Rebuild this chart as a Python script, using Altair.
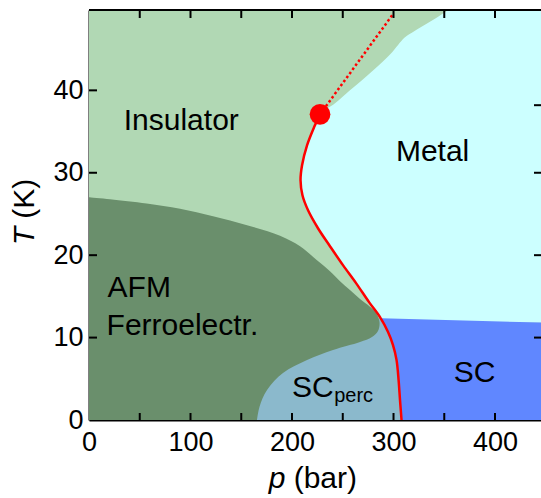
import altair as alt
import pandas as pd

FONT = "Liberation Sans"
P_MAX = 445.3   # right edge of the plotted pressure range (bar)
T_MAX = 49.75   # top of the temperature range (K)

# First-order insulator/metal boundary, from T = 0 up to the critical end point
red_p = [307.9, 306.4, 305.0, 303.0, 299.5, 294.6, 286.7, 275.9, 263.1, 250.2,
         237.4, 225.6, 215.8, 210.3, 208.4, 209.9, 214.8, 221.7, 227.6]
red_T = [0.0, 2.42, 4.85, 7.27, 9.09, 10.67, 12.48, 14.30, 16.61, 18.79,
         21.09, 23.27, 25.45, 27.27, 29.09, 30.91, 33.33, 35.52, 37.09]

# Critical end point and the crossover line above it
cep_p = [227.6]
cep_T = [37.09]
cross_p = [227.6, 299.8]
cross_T = [37.09, 49.3]

# Metal: left boundary (red line, then crossover edge) as a function of T
metal_T = [11.8, 12.48, 14.30, 16.61, 18.79, 21.09, 23.27, 25.45, 27.27, 29.09,
           30.91, 33.33, 35.52, 37.09, 38.42, 40.0, 42.42, 44.48, 46.42, 47.15,
           48.12, 49.09, 49.76, 50.5]
metal_p = [289.7, 286.7, 275.9, 263.1, 250.2, 237.4, 225.6, 215.8, 210.3, 208.4,
           209.9, 214.8, 221.7, 227.6, 242.4, 257.1, 279.8, 297.5, 311.0, 320.0,
           333.0, 345.8, 353.7, 360.0]

# AFM / ferroelectric phase: right boundary as a function of T
afm_T = [0.0, 1.61, 3.64, 5.70, 7.27, 8.48, 9.45, 10.06, 10.79, 11.88, 12.97,
         13.73, 14.67, 15.76, 16.85, 18.06, 19.39, 21.09, 22.36, 23.64, 24.73,
         25.64, 26.27, 26.79, 27.03]
afm_p = [165.5, 168.0, 175.4, 191.1, 214.8, 240.4, 267.0, 278.8, 284.7, 286.2,
         282.8, 276.8, 267.0, 257.1, 247.3, 237.4, 224.6, 207.9, 188.2, 155.7,
         122.2, 89.7, 56.8, 20.7, 0.0]

# Percolative superconductivity (left edge lies beneath the AFM region)
scp_T = [0.0, 2.42, 4.85, 7.27, 9.09, 10.67, 12.48]
scp_left = [150.0, 150.0, 160.0, 190.0, 230.0, 265.0, 286.7]
scp_right = [307.9, 306.4, 305.0, 303.0, 299.5, 294.6, 286.7]

# Bulk superconductivity
sc_T = [0.0, 2.42, 4.85, 7.27, 9.09, 10.67, 11.8, 12.35]
sc_left = [307.9, 306.4, 305.0, 303.0, 299.5, 294.6, 289.7, 287.9]
sc_right = [450.0, 450.0, 450.0, 450.0, 450.0, 450.0, 450.0, 287.9]

# Tick positions (drawn inward)
x_ticks = [50, 100, 150, 200, 250, 300, 350, 400]
y_ticks = [10, 20, 30, 40]
right_ticks = [38.2, 30, 20, 10]
x_labels = [0, 100, 200, 300, 400]
y_labels = [0, 10, 20, 30, 40]

xs = alt.Scale(domain=[0, P_MAX], nice=False, zero=False)
ys = alt.Scale(domain=[0, T_MAX], nice=False, zero=False)

x_axis = alt.Axis(values=x_labels, title=None, ticks=False, tickSize=0, grid=False,
                  domainColor="black", domainWidth=2, labelFont=FONT,
                  labelFontSize=27, labelColor="black", labelPadding=9,
                  labelFlush=False, labelOverlap=False)
y_axis = alt.Axis(values=y_labels, title=None, ticks=False, tickSize=0, grid=False,
                  domainColor="black", domainWidth=2, labelFont=FONT,
                  labelFontSize=27, labelColor="black", labelPadding=6,
                  labelFlush=False, labelOverlap=False)

X = alt.X("p:Q", scale=xs, axis=x_axis)
Y = alt.Y("T:Q", scale=ys, axis=y_axis)


def hband(T, left, right, color, interp="catmull-rom"):
    # rows are already ordered by T, which is the path order of a horizontal area
    df = pd.DataFrame({"T": T, "p": left, "p2": right})
    return alt.Chart(df).mark_area(orient="horizontal", interpolate=interp,
                                   color=color, opacity=1, clip=True).encode(
        x=X, x2="p2:Q", y=Y)


insulator = alt.Chart(pd.DataFrame({"p": [0], "p2": [P_MAX], "T": [0], "T2": [T_MAX]})).mark_rect(
    color="#b1d8b4").encode(x=X, x2="p2:Q", y=Y, y2="T2:Q")

metal = hband(metal_T, metal_p, [460.0] * len(metal_T), "#ccffff")
sc = hband(sc_T, sc_left, sc_right, "#6087ff", interp="linear")
scperc = hband(scp_T, scp_left, scp_right, "#8bb9cc")
afm = hband(afm_T, [0.0] * len(afm_T), afm_p, "#6a8f6c")

red_df = pd.DataFrame({"p": red_p, "T": red_T, "i": range(len(red_p))})
red_line = alt.Chart(red_df).mark_line(interpolate="catmull-rom", color="#ff0000",
                                       strokeWidth=2.5).encode(x=X, y=Y, order="i:Q")

cross_df = pd.DataFrame({"p": cross_p, "T": cross_T, "i": [0, 1]})
cross_line = alt.Chart(cross_df).mark_line(color="#ff0000", strokeWidth=2.5,
                                           strokeDash=[2.5, 2.5]).encode(x=X, y=Y, order="i:Q")

cep = alt.Chart(pd.DataFrame({"p": cep_p, "T": cep_T})).mark_circle(
    size=430, color="#ff0000", opacity=1).encode(x=X, y=Y)

# inward tick marks and the top frame line
rows = []
for v in x_ticks:
    rows.append({"p": v, "p2": v, "T": 0, "T2": 0.85})
    rows.append({"p": v, "p2": v, "T": T_MAX, "T2": T_MAX - 0.97})
for v in y_ticks:
    rows.append({"p": 0, "p2": 7.9, "T": v, "T2": v})
for v in right_ticks:
    rows.append({"p": P_MAX - 6.9, "p2": P_MAX, "T": v, "T2": v})
rows.append({"p": 0, "p2": P_MAX, "T": T_MAX, "T2": T_MAX})
ticks = alt.Chart(pd.DataFrame(rows)).mark_rule(color="black", strokeWidth=2).encode(
    x=X, x2="p2:Q", y=Y, y2="T2:Q")


def label(text, p, T, size=30, align="center", style="normal", angle=0, dx=0):
    df = pd.DataFrame({"p": [p], "T": [T], "txt": [text]})
    return alt.Chart(df).mark_text(font=FONT, fontSize=size, align=align,
                                   baseline="alphabetic", fontStyle=style,
                                   angle=angle, dx=dx, color="black").encode(
        x=X, y=Y, text="txt:N")


texts = [
    label("Insulator", 90.9, 35.15),
    label("Metal", 338.5, 31.4),
    label("AFM", 18.3, 14.95, align="left"),
    label("Ferroelectr.", 17.3, 10.3, align="left"),
    label("SC", 379.8, 4.64),
    label("SC", 200.0, 2.82, align="left"),
    label("perc", 241.5, 2.2, size=20, align="left"),
    # axis titles
    label("p", 177.0, -8.24, align="left", style="italic"),
    label("(bar)", 177.0, -8.24, align="left", dx=25.0),
    label("T", -54.2, 21.2, align="left", style="italic", angle=270),
    label("(K)", -54.2, 21.2, align="left", angle=270, dx=26.6),
]

chart = alt.layer(insulator, metal, sc, scperc, afm, cross_line, red_line, cep,
                  ticks, *texts).properties(
    width=452, height=410, autosize="none",
    padding={"left": 89, "top": 10, "right": 0, "bottom": 78},
).configure_view(stroke=None)

chart.save("out.html", embed_options={"renderer": "svg", "actions": False})
